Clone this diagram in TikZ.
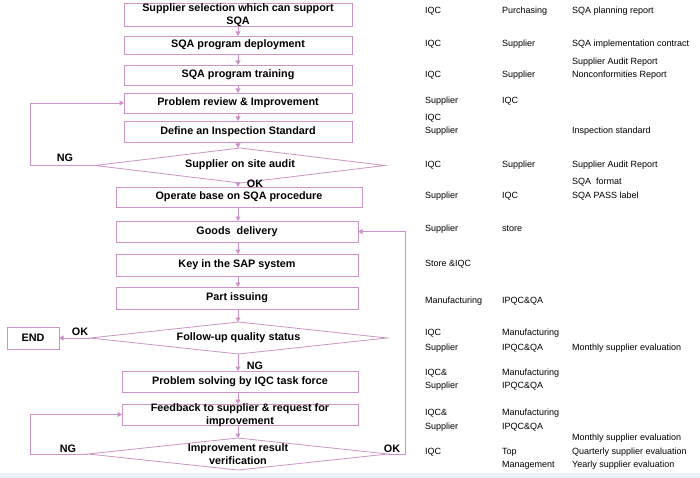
\documentclass[tikz,border=0pt]{standalone}
\usepackage{fontspec}
\setmainfont{Liberation Sans}
\usetikzlibrary{shapes.geometric,arrows.meta}
\definecolor{ln}{RGB}{204,148,198}
\definecolor{strip}{RGB}{234,242,251}
\tikzset{
  x=1pt,y=-1pt,
  box/.style={draw=ln,line width=0.8pt,rectangle,inner sep=0pt,outer sep=0pt,align=center,font=\fontsize{10.8}{13}\selectfont\bfseries},
  dia/.style={draw=ln,line width=0.8pt,diamond,inner sep=0pt,outer sep=0pt},
  dtxt/.style={align=center,inner sep=0pt,font=\fontsize{10.8}{13}\selectfont\bfseries},
  lbl/.style={inner sep=0pt,font=\fontsize{10.8}{13}\selectfont\bfseries},
  tb/.style={anchor=west,inner sep=0pt,font=\fontsize{9}{13}\selectfont},
  arr/.style={draw=ln,line width=0.8pt,-{Triangle[width=5pt,length=4.5pt]}},
}
\begin{document}
\begin{tikzpicture}
\fill[white] (0,0) rectangle (700,478);
\fill[strip] (0,473) rectangle (700,478);
\useasboundingbox (0,0) rectangle (700,478);

% boxes
\node[box,minimum width=228pt,minimum height=23pt] (b1) at (238,14.5) {};
\node[dtxt] at (238,15) {Supplier selection which can support\\SQA};
\node[box,minimum width=228pt,minimum height=18pt] (b2) at (238,45) {SQA program deployment};
\node[box,minimum width=228pt,minimum height=20pt] (b3) at (238,75) {SQA program training};
\node[box,minimum width=228pt,minimum height=20pt] (b4) at (238,103) {Problem review \& Improvement};
\node[box,minimum width=228pt,minimum height=21pt] (b5) at (238,131.5) {Define an Inspection Standard};
\node[dia,minimum width=290pt,minimum height=35pt] (d1) at (240,165.5) {};
\node[dtxt] at (240,165) {Supplier on site audit};
\node[box,minimum width=246pt,minimum height=20pt] (b6) at (239,197) {Operate base on SQA procedure};
\node[box,minimum width=242pt,minimum height=21pt] (b7) at (237,231.5) {Goods\ \ delivery};
\node[box,minimum width=242pt,minimum height=22pt] (b8) at (237,265) {Key in the SAP system};
\node[box,minimum width=242pt,minimum height=22pt] (b9) at (237,298) {Part issuing};
\node[dia,minimum width=297pt,minimum height=32pt] (d2) at (238.5,338) {};
\node[dtxt] at (238.5,338) {Follow-up quality status};
\node[box,minimum width=52pt,minimum height=22pt] (end) at (33,338) {END};
\node[box,minimum width=236pt,minimum height=21pt] (b10) at (240,381.5) {Problem solving by IQC task force};
\node[box,minimum width=236pt,minimum height=21pt] (b11) at (240,414.5) {};
\node[dtxt] at (240,415) {Feedback to supplier \& request for\\improvement};
\node[dia,minimum width=300pt,minimum height=32pt] (d3) at (238,454) {};
\node[dtxt] at (238,454) {Improvement result\\verification};

% connectors
\draw[arr] (b1.south -| 238,0) -- (b2.north -| 238,0);
\draw[arr] (b2.south -| 238,0) -- (b3.north -| 238,0);
\draw[arr] (b3.south -| 238,0) -- (b4.north -| 238,0);
\draw[arr] (b4.south -| 238,0) -- (b5.north -| 238,0);
\draw[arr] (b5.south -| 238,0) -- (d1.north -| 238,0);
\draw[arr] (d1.south -| 238,0) -- (b6.north -| 238,0);
\draw[arr] (b6.south -| 238,0) -- (b7.north -| 238,0);
\draw[arr] (b7.south -| 238,0) -- (b8.north -| 238,0);
\draw[arr] (b8.south -| 238,0) -- (b9.north -| 238,0);
\draw[arr] (b9.south -| 238,0) -- (d2.north -| 238,0);
\draw[arr] (d2.south -| 238,0) -- (b10.north -| 238,0);
\draw[arr] (b10.south -| 238,0) -- (b11.north -| 238,0);
\draw[arr] (b11.south -| 238,0) -- (d3.north -| 238,0);
\draw[arr] (d2.west) -- (end.east);
\coordinate (l1) at (30,165.5);
\draw[arr] (d1.west) -- (l1) |- (b4.west);
\coordinate (l3) at (30,454);
\draw[arr] (d3.west) -- (l3) |- (b11.west);
\coordinate (r3) at (405,454);
\draw[arr] (d3.east) -- (r3) |- (b7.east);

% labels
\node[lbl] at (65,158) {NG};
\node[lbl] at (255,184) {OK};
\node[lbl] at (80,332) {OK};
\node[lbl] at (255,366) {NG};
\node[lbl] at (68,449) {NG};
\node[lbl] at (392,449) {OK};

% table
\node[tb] at (425,11) {IQC};
\node[tb] at (502,11) {Purchasing};
\node[tb] at (572,11) {SQA planning report};
\node[tb] at (425,44) {IQC};
\node[tb] at (502,44) {Supplier};
\node[tb] at (572,44) {SQA implementation contract};
\node[tb] at (572,62) {Supplier Audit Report};
\node[tb] at (425,75) {IQC};
\node[tb] at (502,75) {Supplier};
\node[tb] at (572,75) {Nonconformities Report};
\node[tb] at (425,101) {Supplier};
\node[tb] at (502,101) {IQC};
\node[tb] at (425,118) {IQC};
\node[tb] at (425,131) {Supplier};
\node[tb] at (572,131) {Inspection standard};
\node[tb] at (425,165) {IQC};
\node[tb] at (502,165) {Supplier};
\node[tb] at (572,165) {Supplier Audit Report};
\node[tb] at (572,182) {SQA\ \ format};
\node[tb] at (425,196) {Supplier};
\node[tb] at (502,196) {IQC};
\node[tb] at (572,196) {SQA PASS label};
\node[tb] at (425,229) {Supplier};
\node[tb] at (502,229) {store};
\node[tb] at (425,264) {Store \&IQC};
\node[tb] at (425,301) {Manufacturing};
\node[tb] at (502,301) {IPQC\&QA};
\node[tb] at (425,333) {IQC};
\node[tb] at (502,333) {Manufacturing};
\node[tb] at (425,348) {Supplier};
\node[tb] at (502,348) {IPQC\&QA};
\node[tb] at (572,348) {Monthly supplier evaluation};
\node[tb] at (425,373) {IQC\&};
\node[tb] at (502,373) {Manufacturing};
\node[tb] at (425,386) {Supplier};
\node[tb] at (502,386) {IPQC\&QA};
\node[tb] at (425,413) {IQC\&};
\node[tb] at (502,413) {Manufacturing};
\node[tb] at (425,427) {Supplier};
\node[tb] at (502,427) {IPQC\&QA};
\node[tb] at (572,438) {Monthly supplier evaluation};
\node[tb] at (425,452) {IQC};
\node[tb] at (502,452) {Top};
\node[tb] at (572,452) {Quarterly supplier evaluation};
\node[tb] at (502,465) {Management};
\node[tb] at (572,465) {Yearly supplier evaluation};
\end{tikzpicture}
\end{document}
